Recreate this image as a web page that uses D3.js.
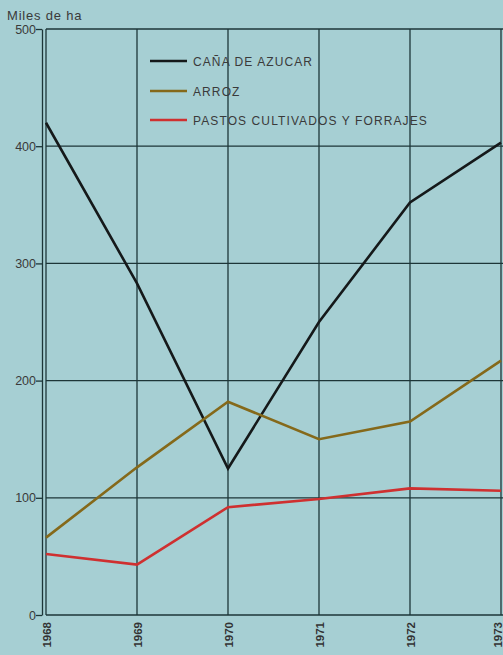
<!DOCTYPE html>
<html>
<head>
<meta charset="utf-8">
<script src="https://cdn.jsdelivr.net/npm/d3@7"></script>
<style>
  body { margin: 0; background: #a6cfd3; }
  svg { display: block; }
</style>
</head>
<body>
<svg></svg>
<script>
let w = 503;
let h = 655;

// data
const years = [1968, 1969, 1970, 1971, 1972, 1973];
const cana = [420, 283, 125, 250, 352, 403];
const arroz = [66, 126, 182, 150, 165, 217];
const pastos = [52, 43, 92, 99, 108, 106];
const yTicks = [0, 100, 200, 300, 400, 500];
const seriesNames = ['CAÑA DE AZUCAR', 'ARROZ', 'PASTOS CULTIVADOS Y FORRAJES'];
const seriesColors = ['#15191a', '#85691a', '#cf3030'];

const svg = d3.select('svg')
  .attr('width', w)
  .attr('height', h)

svg.append('rect')
  .attr('width', w)
  .attr('height', h)
  .attr('fill', '#a6cfd3')

// Scales
const xScale = d3.scaleLinear()
  .domain([1968, 1973])
  .range([46, 501])

const yScale = d3.scaleLinear()
  .domain([0, 500])
  .range([615, 29])

// grid
const grid = svg.append('g')
  .attr('stroke', '#1d3638')
  .attr('stroke-width', 1.3)

grid.selectAll('.hline')
  .data(yTicks)
  .enter()
  .append('line')
  .attr('x1', 46)
  .attr('x2', w)
  .attr('y1', d => yScale(d))
  .attr('y2', d => yScale(d))

grid.selectAll('.vline')
  .data(years)
  .enter()
  .append('line')
  .attr('x1', d => xScale(d))
  .attr('x2', d => xScale(d))
  .attr('y1', yScale(500))
  .attr('y2', yScale(0))

// y axis, separated from the frame
const yAxis = d3.axisLeft(yScale)
  .tickValues(yTicks)
  .tickSize(6)
  .tickSizeOuter(0)

const ya = svg.append('g')
  .attr('transform', 'translate(42,0)')
  .call(yAxis)

ya.select('.domain').attr('stroke', '#1d3638').attr('stroke-width', 1.3)
ya.selectAll('.tick line').attr('stroke', '#1d3638').attr('stroke-width', 1.3)
ya.selectAll('.tick text')
  .attr('x', -6)
  .attr('font-size', '12.5px')
  .attr('font-family', 'Liberation Sans, Arial, sans-serif')
  .attr('fill', '#3a3a3a')

// x labels
const xAxis = d3.axisBottom(xScale)
  .tickValues(years)
  .tickFormat(d => String(d))
  .tickSize(0)

const xa = svg.append('g')
  .attr('transform', 'translate(0,' + yScale(0) + ')')
  .call(xAxis)

xa.select('.domain').remove()
xa.selectAll('.tick text')
  .attr('transform', 'rotate(-90)')
  .attr('x', -7)
  .attr('y', (d, i) => i == years.length - 1 ? -4 : 0)
  .attr('dy', '0.35em')
  .attr('text-anchor', 'end')
  .attr('font-size', '11.5px')
  .attr('font-weight', 'bold')
  .attr('font-family', 'Liberation Sans, Arial, sans-serif')
  .attr('fill', '#333')

// lines
const line = d3.line()
  .x((d, i) => xScale(years[i]))
  .y(d => yScale(d))

const series = [cana, arroz, pastos];
svg.selectAll('.series')
  .data(series)
  .enter()
  .append('path')
  .attr('d', d => line(d))
  .attr('fill', 'none')
  .attr('stroke', (d, i) => seriesColors[i])
  .attr('stroke-width', 2.6)
  .attr('stroke-linejoin', 'miter')

// legend
const legend = svg.append('g')
const ly = [61, 91, 120];
legend.selectAll('line')
  .data(seriesNames)
  .enter()
  .append('line')
  .attr('x1', 150)
  .attr('x2', 187)
  .attr('y1', (d, i) => ly[i])
  .attr('y2', (d, i) => ly[i])
  .attr('stroke', (d, i) => seriesColors[i])
  .attr('stroke-width', 2.6)

legend.selectAll('text')
  .data(seriesNames)
  .enter()
  .append('text')
  .attr('x', 193)
  .attr('y', (d, i) => ly[i] + 5)
  .attr('font-size', '12px')
  .attr('letter-spacing', '1.1px')
  .attr('font-family', 'Liberation Sans, Arial, sans-serif')
  .attr('fill', '#3a3a3a')
  .text(d => d)

svg.append('text')
  .attr('x', 7)
  .attr('y', 20)
  .attr('font-size', '13px')
  .attr('letter-spacing', '0.8px')
  .attr('font-family', 'Liberation Sans, Arial, sans-serif')
  .attr('fill', '#3a3a3a')
  .text('Miles de ha')
</script>
</body>
</html>
